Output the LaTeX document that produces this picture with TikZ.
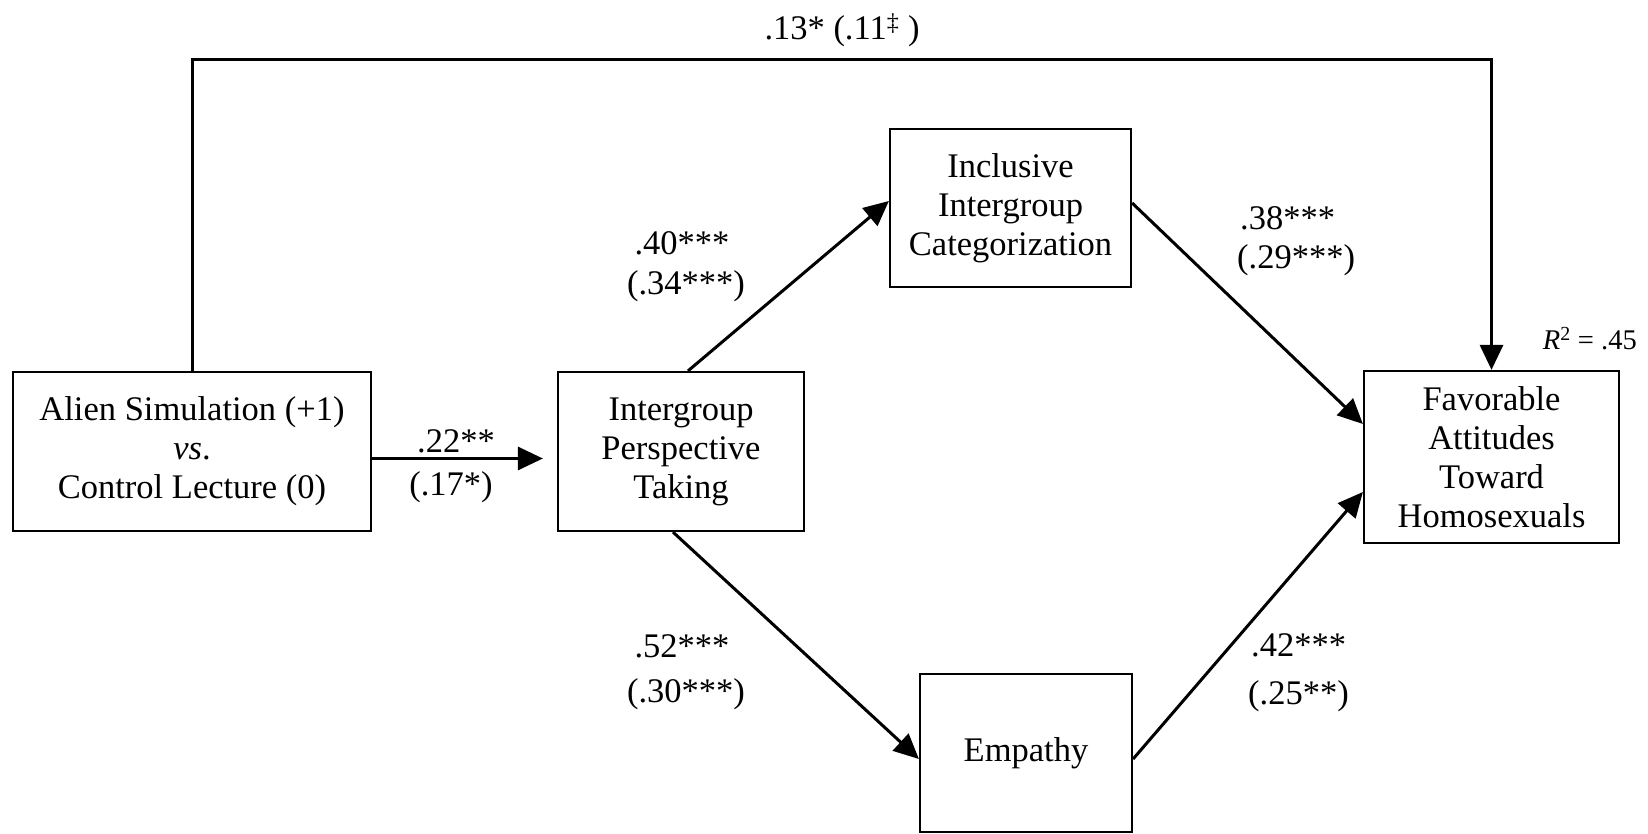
\documentclass[tikz,border=0pt]{standalone}
\usepackage{fontspec}
\setmainfont{Liberation Serif}
\usetikzlibrary{arrows.meta}
\begin{document}
\begin{tikzpicture}[x=1pt,y=1pt,
  txt/.style={font=\fontsize{34.5}{39}\selectfont, align=center},
  box/.style={txt, draw, line width=2.2pt, inner sep=0pt},
  conn/.style={line width=3pt, line join=miter, -{Triangle[length=25pt,width=23pt]}},
  lab/.style={txt, inner sep=0pt, anchor=base}]
\useasboundingbox (0,0) rectangle (1648,834);
\node[box, minimum width=358pt, minimum height=159pt] (alien) at (192,382.5) {Alien Simulation (+1)\\\textit{vs}.\\Control Lecture (0)};
\node[box, minimum width=246pt, minimum height=159pt] (ipt) at (681,382.5) {Intergroup\\Perspective\\Taking};
\node[box, minimum width=241pt, minimum height=158pt] (incl) at (1010.5,626) {Inclusive\\Intergroup\\Categorization};
\node[box, minimum width=212pt, minimum height=158pt] (emp) at (1026,81) {Empathy};
\node[box, minimum width=255pt, minimum height=172pt] (fav) at (1491.5,377) {Favorable\\Attitudes\\Toward\\Homosexuals};
\coordinate (topy) at (0,774);
\draw[conn] (alien.north) -- (alien.north |- topy) -- (fav.north |- topy) -- (fav.north);
\draw[conn, shorten >=14pt] ([yshift=-7pt]alien.east) -- ([yshift=-7pt]ipt.west);
\draw[conn] ([xshift=7pt]ipt.north) -- ([yshift=7pt]incl.west);
\draw[conn] ([xshift=-8pt]ipt.south) -- ([yshift=-6pt]emp.west);
\draw[conn] ([yshift=5pt]incl.east) -- ([yshift=33pt]fav.west);
\draw[conn] ([yshift=-6pt]emp.east) -- ([yshift=-35pt]fav.west);
\node[lab] (ltop) at (842,794) {.13* (.11\textsuperscript{‡} )};
\node[lab, anchor=base east, font=\fontsize{28.5}{32}\selectfont] (lr2) at (1637,484) {\textit{R}\textsuperscript{2} = .45};
\node[lab] (la1) at (456,381) {.22**};
\node[lab] (la2) at (451,338) {(.17*)};
\node[lab] (lb1) at (682,579) {.40***};
\node[lab] (lb2) at (686,539) {(.34***)};
\node[lab] (lc1) at (682,176) {.52***};
\node[lab] (lc2) at (686,131) {(.30***)};
\node[lab, anchor=base west] (ld1) at (1240,604) {.38***};
\node[lab, anchor=base west] (ld2) at (1237,565) {(.29***)};
\node[lab, anchor=base west] (le1) at (1251,177) {.42***};
\node[lab, anchor=base west] (le2) at (1248,129) {(.25**)};
\end{tikzpicture}
\end{document}
